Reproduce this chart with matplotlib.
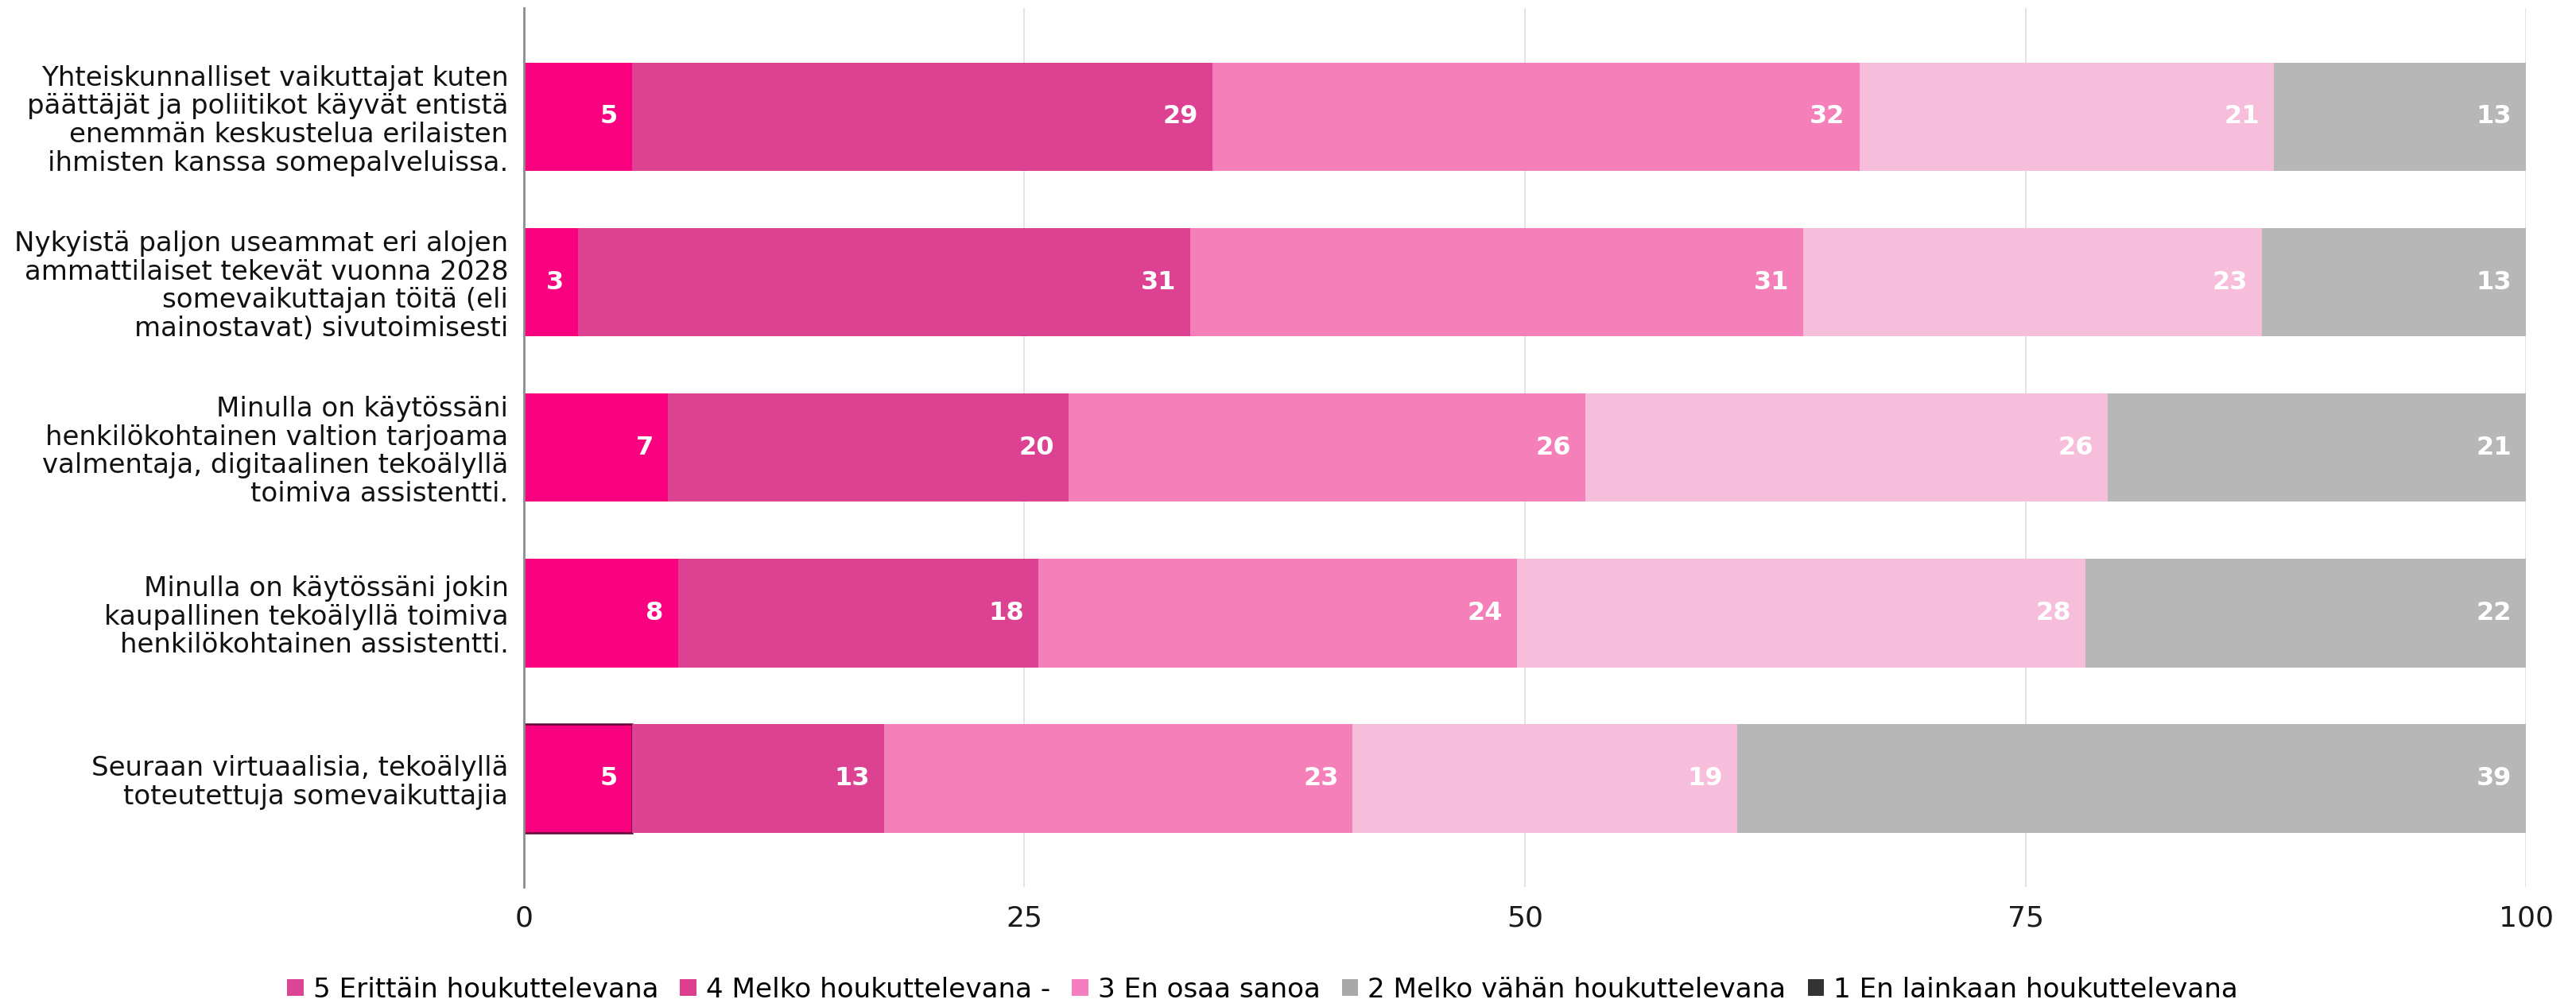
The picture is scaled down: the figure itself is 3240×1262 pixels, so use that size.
import matplotlib.pyplot as plt
from matplotlib.patches import Patch

plt.rcParams['font.family'] = ['DejaVu Sans']

questions = [
    'Yhteiskunnalliset vaikuttajat kuten\npäättäjät ja poliitikot käyvät entistä\nenemmän keskustelua erilaisten\nihmisten kanssa somepalveluissa.',
    'Nykyistä paljon useammat eri alojen\nammattilaiset tekevät vuonna 2028\nsomevaikuttajan töitä (eli\nmainostavat) sivutoimisesti',
    'Minulla on käytössäni\nhenkilökohtainen valtion tarjoama\nvalmentaja, digitaalinen tekoälyllä\ntoimiva assistentti.',
    'Minulla on käytössäni jokin\nkaupallinen tekoälyllä toimiva\nhenkilökohtainen assistentti.',
    'Seuraan virtuaalisia, tekoälyllä\ntoteutettuja somevaikuttajia',
]

# shares per answer group, one list per stacked segment (left to right)
seg_a = [5.4, 2.7, 7.2, 7.7, 5.4]
seg_b = [29.0, 30.6, 20.0, 18.0, 12.6]
seg_c = [32.3, 30.6, 25.8, 23.9, 23.4]
seg_d = [20.7, 22.9, 26.1, 28.4, 19.2]
seg_e = [12.6, 13.2, 20.9, 22.0, 39.4]

legend_labels = ['5 Erittäin houkuttelevana', '4 Melko houkuttelevana -', '3 En osaa sanoa',
                 '2 Melko vähän houkuttelevana', '1 En lainkaan houkuttelevana']

seg_colors = ['#f9017f', '#dd4191', '#f57fb8', '#f6bedb', '#b7b7b7']
legend_colors = ['#dc4596', '#dd3f8f', '#f57fbe', '#a9a9a9', '#333333']

fig = plt.figure(figsize=(32.41, 12.62), dpi=100)
ax = fig.add_axes([0.2033, 0.1157, 0.7770, 0.876])

y = list(range(len(questions)))
left = [0.0] * len(questions)
all_bars = []
for vals, col in zip([seg_a, seg_b, seg_c, seg_d, seg_e], seg_colors):
    bars = ax.barh(y, vals, left=left, height=0.655, color=col, zorder=2)
    all_bars.append(bars)
    for yi, l, v in zip(y, left, vals):
        ax.annotate('%.0f' % v, xy=(l + v, yi), xytext=(-13, 0), textcoords='offset points',
                    ha='right', va='center', color='white', fontsize=23, fontweight='bold', zorder=3)
    left = [l + v for l, v in zip(left, vals)]

# highlighted cell in the last row
all_bars[0][4].set_edgecolor('#5c0a33')
all_bars[0][4].set_linewidth(1.8)

ax.set_xlim(0, 100)
ax.set_ylim(len(questions) - 1 + 0.655, -0.655)
ax.set_xticks([0, 25, 50, 75, 100])
ax.set_yticks(y)
ax.set_yticklabels(questions, fontsize=24.5, linespacing=1.1)
ax.tick_params(axis='x', length=0, pad=16, labelsize=26, labelcolor='#1a1a1a')
ax.tick_params(axis='y', length=0, pad=14, labelcolor='#111111')
for lbl in ax.get_yticklabels():
    lbl.set_horizontalalignment('right')
    lbl.set_multialignment('right')

ax.grid(axis='x', color='#e0e0e0', lw=1.3)
ax.set_axisbelow(True)
for s in ['top', 'right', 'bottom']:
    ax.spines[s].set_visible(False)
ax.spines['left'].set_color('#8c8c8c')
ax.spines['left'].set_linewidth(2)
ax.spines['left'].set_zorder(4)

handles = [Patch(facecolor=c) for c in legend_colors]
fig.legend(handles, legend_labels, loc='lower center', bbox_to_anchor=(0.49, -0.024), ncol=5,
           frameon=False, fontsize=24.6, handlelength=0.6, handleheight=0.6,
           handletextpad=0.35, columnspacing=0.8)

plt.savefig('out.png', dpi=100)
